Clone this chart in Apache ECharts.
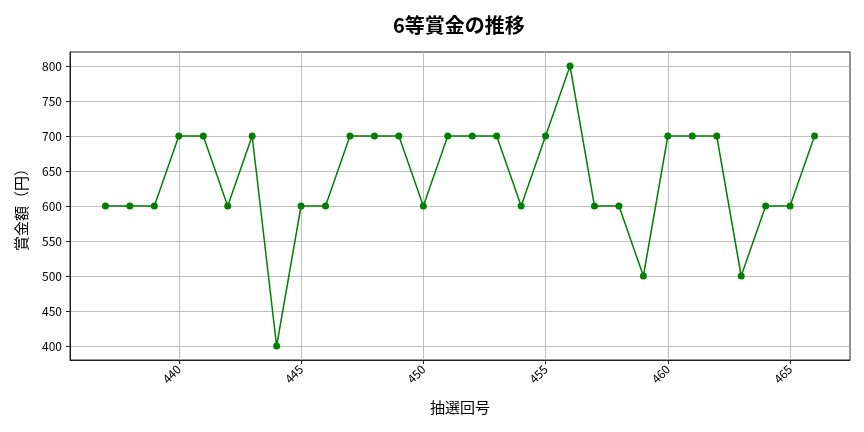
<!DOCTYPE html>
<html><head><meta charset="utf-8">
<script src="https://cdn.jsdelivr.net/npm/echarts@6/dist/echarts.min.js"></script>
<style>html,body{margin:0;padding:0;background:#fff}#c{width:864px;height:432px}</style>
</head><body><div id="c"></div>
<script>
const draws = [437,438,439,440,441,442,443,444,445,446,447,448,449,450,451,452,453,454,455,456,457,458,459,460,461,462,463,464,465,466];
const prizes = [600,600,600,700,700,600,700,400,600,600,700,700,700,600,700,700,700,600,700,800,600,600,500,700,700,700,500,600,600,700];
const xTicks = [440,445,450,455,460,465];
const yTicks = [400,450,500,550,600,650,700,750,800];
const font = '"Noto Sans CJK JP", "DejaVu Sans", sans-serif';
const chart = echarts.init(document.getElementById('c'), null, {renderer:'canvas'});
chart.setOption({
  animation:false,
  backgroundColor:'#fff',
  title:{text:'6等賞金の推移',left:388,top:10,textStyle:{fontFamily:font,fontSize:20,fontWeight:'bold',color:'#000'}},
  grid:{left:70,right:14,top:52,bottom:72,containLabel:false,show:true,borderColor:'#222',borderWidth:1},
  xAxis:{type:'value',min:435.55,max:467.45,
    name:'抽選回号',nameLocation:'middle',nameGap:40,nameTextStyle:{fontFamily:font,fontSize:15,color:'#000'},
    axisLine:{show:true,onZero:false,lineStyle:{color:'#222'}},
    axisTick:{show:true,length:4,lineStyle:{color:'#222'},customValues:xTicks},
    axisLabel:{customValues:xTicks,rotate:45,fontFamily:font,fontSize:12,color:'#000',margin:7},
    splitLine:{show:true,lineStyle:{color:'#b0b0b0',width:0.8}}},
  yAxis:{type:'value',min:380,max:820,
    name:'賞金額（円）',nameLocation:'middle',nameGap:41,nameRotate:90,nameTextStyle:{fontFamily:font,fontSize:15,color:'#000'},
    axisLine:{show:true,lineStyle:{color:'#222'}},
    axisTick:{show:true,length:4,lineStyle:{color:'#222'},customValues:yTicks},
    axisLabel:{customValues:yTicks,fontFamily:font,fontSize:12,color:'#000',margin:8},
    splitLine:{show:true,lineStyle:{color:'#b0b0b0',width:0.8}}},
  series:[{type:'line',data:draws.map((d,i)=>[d,prizes[i]]),
    symbol:'circle',symbolSize:7,
    lineStyle:{color:'#008000',width:1.5},itemStyle:{color:'#008000'}}]
});
</script></body></html>
